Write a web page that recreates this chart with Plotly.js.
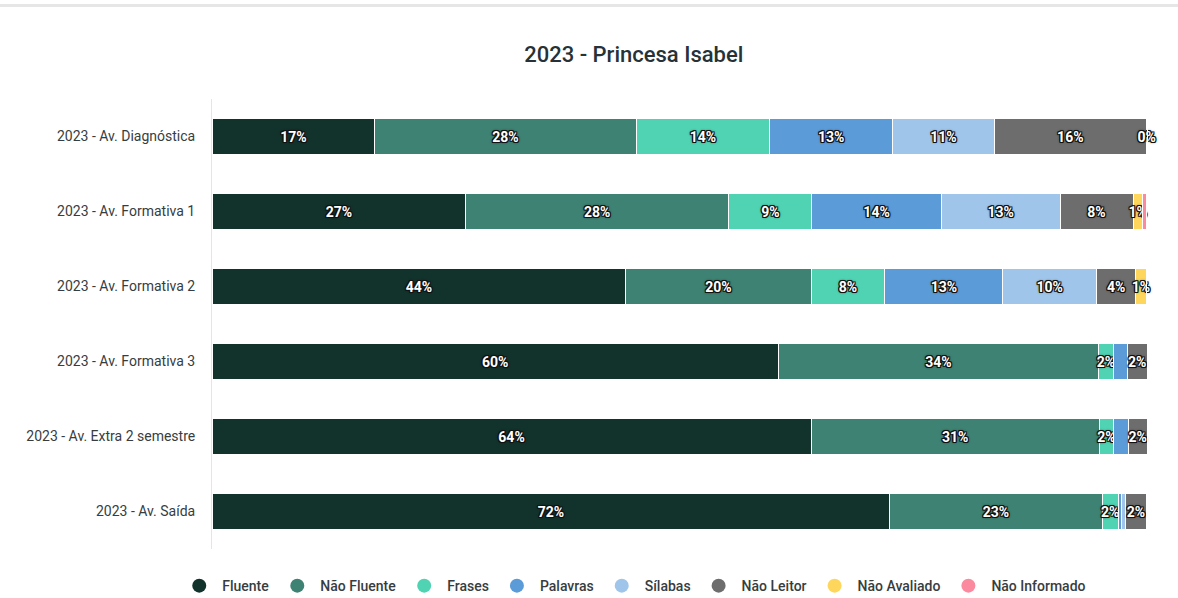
<!DOCTYPE html>
<html>
<head>
<meta charset="utf-8">
<script src="https://cdn.plot.ly/plotly-3.0.1.min.js"></script>
<style>
  html, body { margin: 0; padding: 0; background: #fff; }
  #topline { position: absolute; left: 0; top: 4px; width: 1178px; height: 3px; background: #e6e6e6; z-index: 5; }
  #chart { width: 1178px; height: 598px; }
</style>
</head>
<body>
<div id="topline"></div>
<div id="chart"></div>
<script>
const categories = [
  "2023 - Av. Diagnóstica",
  "2023 - Av. Formativa 1",
  "2023 - Av. Formativa 2",
  "2023 - Av. Formativa 3",
  "2023 - Av. Extra 2 semestre",
  "2023 - Av. Saída"
];
const seriesNames = ["Fluente", "Não Fluente", "Frases", "Palavras", "Sílabas", "Não Leitor", "Não Avaliado", "Não Informado"];
const seriesColors = ["#12332b", "#3d8272", "#4fd3b2", "#5b9bd8", "#9fc6ea", "#6d6d6d", "#ffd65c", "#fb8a9e"];

const fluente      = [17.4, 27.1, 44.2, 60.5, 64.0, 72.4];
const naoFluente   = [27.9, 28.1, 19.8, 34.2, 30.8, 22.7];
const frases       = [14.3,  8.9,  7.9,  1.6,  1.5,  1.7];
const palavras     = [13.1, 13.8, 12.6,  1.5,  1.6,  0.4];
const silabas      = [10.9, 12.7, 10.0,  0,    0,    0.4];
const naoLeitor    = [16.2,  7.8,  4.2,  2.1,  2.0,  2.2];
const naoAvaliado  = [ 0.1,  1.0,  1.1,  0,    0,    0];
const naoInformado = [ 0,    0.4,  0,    0,    0,    0];

const labelFluente      = ["17%", "27%", "44%", "60%", "64%", "72%"];
const labelNaoFluente   = ["28%", "28%", "20%", "34%", "31%", "23%"];
const labelFrases       = ["14%", "9%", "8%", "2%", "2%", "2%"];
const labelPalavras     = ["13%", "14%", "13%", "", "", ""];
const labelSilabas      = ["11%", "13%", "10%", "", "", ""];
const labelNaoLeitor    = ["16%", "8%", "4%", "2%", "2%", "2%"];
const labelNaoAvaliado  = ["0%", "1%", "1%", "", "", ""];
const labelNaoInformado = ["", "", "", "", "", ""];

const values = [fluente, naoFluente, frases, palavras, silabas, naoLeitor, naoAvaliado, naoInformado];
const labels = [labelFluente, labelNaoFluente, labelFrases, labelPalavras, labelSilabas, labelNaoLeitor, labelNaoAvaliado, labelNaoInformado];

const outline = "-1px -1px 0 #111, 1px -1px 0 #111, -1px 1px 0 #111, 1px 1px 0 #111, 0 -1px 0 #111, 0 1px 0 #111, -1px 0 0 #111, 1px 0 0 #111, 0 0 3px #000";

const traces = [];
seriesNames.forEach((name, i) => {
  traces.push({
    type: "bar",
    orientation: "h",
    name: name,
    y: categories,
    x: values[i],
    text: labels[i],
    textposition: "inside",
    insidetextanchor: "middle",
    textangle: 0,
    constraintext: "none",
    cliponaxis: false,
    textfont: { family: "Roboto, sans-serif", size: 14, color: "#ffffff", weight: 700, shadow: outline },
    marker: { color: seriesColors[i], line: { color: "#ffffff", width: 1 } },
    showlegend: false,
    hoverinfo: "x+name"
  });
});
seriesNames.forEach((name, i) => {
  traces.push({
    type: "scatter",
    mode: "markers",
    name: name,
    x: [null],
    y: [null],
    marker: { color: seriesColors[i], size: 14, symbol: "circle" },
    showlegend: true,
    hoverinfo: "skip"
  });
});

const layout = {
  width: 1178,
  height: 598,
  margin: { l: 212, r: 30, t: 99, b: 49 },
  paper_bgcolor: "#ffffff",
  plot_bgcolor: "#ffffff",
  barmode: "stack",
  bargap: 0.52,
  font: { family: "Roboto, sans-serif", color: "#373d3f" },
  title: {
    text: "2023 - Princesa Isabel",
    font: { family: "Roboto, sans-serif", size: 22, color: "#263238", weight: 500 },
    xref: "container", x: 0.538, xanchor: "center",
    yref: "container", y: 0.91, yanchor: "middle"
  },
  xaxis: {
    range: [0, 100],
    showgrid: false, zeroline: false, showline: false,
    showticklabels: false, ticks: "", fixedrange: true
  },
  yaxis: {
    autorange: "reversed",
    showgrid: false, zeroline: false,
    showline: true, linecolor: "#e0e6ef", linewidth: 1,
    ticks: "", ticklabelstandoff: 13,
    tickfont: { family: "Roboto, sans-serif", size: 14, color: "#373d3f" },
    fixedrange: true
  },
  legend: {
    orientation: "h",
    xref: "container", x: 0.538, xanchor: "center",
    yref: "container", y: 0.02, yanchor: "middle",
    font: { family: "Roboto, sans-serif", size: 14, color: "#373d3f", weight: 500 },
    itemwidth: 36,
    traceorder: "normal"
  },
  hovermode: "closest"
};

Plotly.newPlot("chart", traces, layout, { displayModeBar: false, staticPlot: false });
</script>
</body>
</html>
